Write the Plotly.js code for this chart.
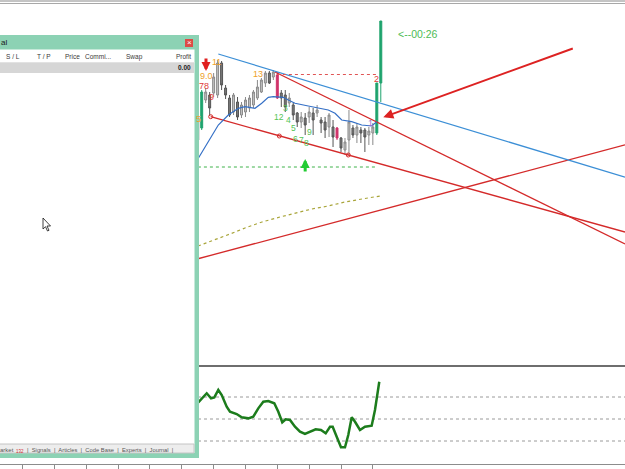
<!DOCTYPE html>
<html><head><meta charset="utf-8">
<script src="https://cdn.plot.ly/plotly-3.0.1.min.js"></script>
<style>html,body{margin:0;padding:0;background:#fff;overflow:hidden}#chart{width:625px;height:469px}</style>
</head><body><div id="chart"></div>
<script>
// ================= DATA (bar index / price units) =================
const barIndex = [-1,0,1,2,3,4,5,6,7,8,9,10,11,12,13,14,15,16,17,18,19,20,21,22,23,24,25,26,27,28,29,30,31,32,33,34,35,36,37,38,39,40,41,42,43,44,45];
const openP  = [283,272,300,305,307,305,337,312,302,288,298,285,288,292,295,302,308,317,327,323,325,307,305,297,295,287,278,282,283,287,287,280,278,273,273,272,262,250,260,272,265,270,270,265,267,267,317];
const highP  = [288,310,312,308,327,340,339,315,305,307,303,298,303,305,310,320,322,329,329,330,328,310,310,307,297,288,288,287,293,292,295,283,283,287,280,273,263,262,290,275,277,273,272,273,277,317,379];
const lowP   = [252,270,297,284,303,302,310,301,283,285,280,282,283,288,292,300,307,313,316,320,301,293,288,293,280,273,272,265,277,265,283,267,262,263,253,260,248,245,245,262,257,257,248,255,255,265,298];
const closeP = [260,308,308,292,323,337,315,305,285,305,283,295,300,302,308,313,320,327,317,328,302,302,293,302,285,278,283,275,288,280,290,277,270,285,263,262,252,258,278,265,273,267,263,269,273,317,379];
const greenSignalBars   = [0,44,45];
const crimsonSignalBars = [19,34];

// moving averages
const maBar   = [-0.85,0.83,2.51,4.17,6.68,9.2,10.88,13.39,15.08,16.73,17.99,20.5,21.76,23.44,26.78,29.3,31.8,33.5,35.18,37.69,40.2,42.71,43.97];
const maPrice = [241.7,253.3,265,275,285,291.7,293.3,291.7,296.7,302.7,303.3,302.7,300,296.7,294,291.7,290,286.7,280,278.3,275,274,278.3];
const slowMaBar   = [-0.93,3.34,7.11,10.88,15.15,19.67,23.44,27.71,31.73,36.0,40.28,44.8];
const slowMaPrice = [154,160,166,172,178,183,187,191,194,198,201,204];

// trend lines: [bar1, price1, bar2, price2] (rays to the right)
const trendChannelLow = [2.26,283.3,36.83,245];
const trendBlue       = [4.17,346,44.8,297];
const trendRedUpper   = [18.42,328,44.8,276.4];
const trendRedRising  = [-1.18,141,44.8,189.8];
const channelAnchorBar   = [2.26,19.5,36.83];
const channelAnchorPrice = [283.3,264,245];

// horizontal levels
const greenLevel = 233, greenLevelFrom = -50.7, greenLevelTo = 44.2;
const redLevel = 325.5, redLevelFrom = 18.9, redLevelTo = 44.0;

// signal arrow (tail -> head)
const arrowBars = [93.37,45.63], arrowPrices = [351.7,282.7];
const upArrowBar = 26, upArrowPrice = 241;
const downArrowBar = 1.08, downArrowPrice = 329;

// count labels
const orangeText = ['11','9.0','5','13'], orangeBar = [3.6,1.08,-0.93,14.15], orangePrice = [338,324,281,326];
const redText = ['78','9','2'], redBar = [0.58,2.34,43.8], redPrice = [314,303,321];
const greenText = ['12','3','4','5','6','7','8','9'];
const greenBar = [19.42,20.93,21.93,22.94,23.6,25.0,26.4,27.2];
const greenPrice = [283,292,280,272.5,261,260,257,268];
const purpleText = ['1'], purpleBar = [42.5], purplePrice = [277];
const timerText = '<--00:26', timerBar = 48.8, timerPrice = 366;

// oscillator
const rsiBar = [-0.85,1.26,2.34,3.17,4.17,5.03,6.28,7.11,8.79,10.05,11.71,12.96,14.22,15.48,16.73,18.24,19.25,20.25,21.11,22.19,23.44,24.7,25.95,27.21,28.64,29.97,31.16,32.24,32.91,33.92,35.0,36.0,36.83,37.69,38.52,39.77,41.03,42.71,43.54,44.62];
const rsiValue = [65.2,73.4,68.8,69.7,76.4,71.8,61.2,56.6,54.5,51.5,50.6,52.1,59.7,65.7,66.4,64.3,56.6,47.0,49.7,49.1,43.0,38.5,36.4,38.5,40.6,40.0,37.0,43.0,43.0,33.9,24.3,24.3,35.5,51.5,47.5,40.0,43.0,43.9,58.2,83.9];
const rsiLevels = [30,50,70];
const timeTicks = [-45,-37,-29,-21,-13,-5,3,11,19,27,35,43];

// terminal panel texts
const panelHeaders = ['S / L','T / P','Price','Commi...','Swap'];
const panelTabs = ['Signals','Articles','Code Base','Experts','Journal'];

// ================= BUILD =================
const XR = [-50.68, 106.36];
const W = 625, H = 469;
const X = x => x / W, Y = y => 1 - y / H;

function pick(arr, set, keep){ return arr.filter((v,k)=> keep ? set.includes(barIndex[k]) : !set.includes(barIndex[k])); }
const special = greenSignalBars.concat(crimsonSignalBars);
function candle(set, keep, inc, dec){
  return {type:'candlestick', x:pick(barIndex,set,keep), open:pick(openP,set,keep), high:pick(highP,set,keep),
    low:pick(lowP,set,keep), close:pick(closeP,set,keep), xaxis:'x', yaxis:'y', hoverinfo:'skip', showlegend:false,
    increasing:{line:{color:inc[0],width:1},fillcolor:inc[1]}, decreasing:{line:{color:dec[0],width:1},fillcolor:dec[1]}};
}
function ray(t, color, w){
  const s = (t[3]-t[1])/(t[2]-t[0]);
  return {type:'scatter', mode:'lines', x:[t[0], XR[1]], y:[t[1], t[1]+s*(XR[1]-t[0])],
    line:{color:color,width:w}, hoverinfo:'skip', showlegend:false};
}

const traces = [
  candle(special,false,['#8a8a8a','#c2c2c2'],['#555','#7a7a7a']),
  candle(greenSignalBars,true,['#1fa36d','#1fa36d'],['#1fa36d','#1fa36d']),
  candle(crimsonSignalBars,true,['#d0336a','#d0336a'],['#d0336a','#d0336a']),
  ray(trendRedRising,'#d42a2a',1.3),
  ray(trendChannelLow,'#d42a2a',1.3),
  ray(trendRedUpper,'#d42a2a',1.3),
  ray(trendBlue,'#3c8fd6',1.3),
  {type:'scatter',mode:'markers',x:channelAnchorBar,y:channelAnchorPrice,marker:{symbol:'circle-open',size:4,color:'#d42a2a',line:{width:1}},hoverinfo:'skip',showlegend:false},
  {type:'scatter',mode:'lines',x:slowMaBar,y:slowMaPrice,line:{color:'#a9a53a',width:1.2,dash:'dot'},hoverinfo:'skip',showlegend:false},
  {type:'scatter',mode:'lines',x:maBar,y:maPrice,line:{color:'#3570c6',width:1.2},hoverinfo:'skip',showlegend:false},
  {type:'scatter',mode:'lines',x:[greenLevelFrom,greenLevelTo],y:[greenLevel,greenLevel],line:{color:'#3fb24a',width:1,dash:'dot'},hoverinfo:'skip',showlegend:false},
  {type:'scatter',mode:'lines',x:[redLevelFrom,redLevelTo],y:[redLevel,redLevel],line:{color:'#e05555',width:1,dash:'dot'},hoverinfo:'skip',showlegend:false},
  {type:'scatter',mode:'lines',x:rsiBar,y:rsiValue,xaxis:'x',yaxis:'y2',line:{color:'#1c7c1c',width:2.5},hoverinfo:'skip',showlegend:false}
];

const annotations = [];
function lab(texts,bars,prices,color,size){
  texts.forEach((t,k)=>annotations.push({xref:'x',yref:'y',x:bars[k],y:prices[k],text:t,showarrow:false,
    font:{family:'Liberation Sans',size:size||9,color:color},xanchor:'center',yanchor:'middle',borderpad:0}));
}
lab(orangeText,orangeBar,orangePrice,'#eea12a');
lab(redText,redBar,redPrice,'#e03a3a');
lab(greenText,greenBar,greenPrice,'#55c455',8.5);
lab(purpleText,purpleBar,purplePrice,'#9a6fd0');
annotations.push({xref:'x',yref:'y',x:timerBar,y:timerPrice,text:timerText,showarrow:false,xanchor:'left',yanchor:'middle',
  font:{family:'Liberation Sans',size:10.5,color:'#4dbb55'}});
annotations.push({xref:'x',yref:'y',axref:'x',ayref:'y',x:arrowBars[1],y:arrowPrices[1],ax:arrowBars[0],ay:arrowPrices[0],
  text:'',font:{size:1},borderpad:0,showarrow:true,arrowhead:2,arrowsize:1,arrowwidth:2,arrowcolor:'#dd2222'});
annotations.push({xref:'x',yref:'y',x:upArrowBar,y:upArrowPrice,ax:0,ay:13,text:'',font:{size:1},borderpad:0,showarrow:true,arrowhead:2,arrowsize:0.6,arrowwidth:3,arrowcolor:'#22cc33'});
annotations.push({xref:'x',yref:'y',x:downArrowBar,y:downArrowPrice,ax:0,ay:-13,text:'',font:{size:1},borderpad:0,showarrow:true,arrowhead:2,arrowsize:0.6,arrowwidth:3,arrowcolor:'#e02020'});

// terminal panel text
const PF = 'Liberation Sans';
function ptext(t,x,y,anchor,size,color,bold){
  annotations.push({xref:'paper',yref:'paper',x:X(x),y:Y(y),text:bold?'<b>'+t+'</b>':t,showarrow:false,xanchor:anchor,yanchor:'middle',
    font:{family:PF,size:size,color:color},borderpad:0});
}
ptext('al',0,42.5,'left',8,'#1a1a1a');
const headerX = [13,44,72.5,98,134];
panelHeaders.forEach((t,k)=>ptext(t,headerX[k],57,'center',6.5,'#3a3a3a'));
ptext('Profit',192,57,'right',6.5,'#3a3a3a');
ptext('0.00',192,67.5,'right',6.5,'#222',true);
ptext('×',189,43,'center',8,'#ffffff');
ptext('arket',-1,449.5,'left',6,'#555');
ptext('132',15,451.5,'left',4.5,'#d03030');
ptext('|  ' + panelTabs.join('  |  ') + '  |',26,449.5,'left',5.8,'#555');

const mint = '#8cd2b4';
const shapes = [
  // oscillator separator and levels
  {type:'line',xref:'paper',yref:'paper',x0:0,x1:1,y0:Y(366),y1:Y(366),line:{color:'#6e6e6e',width:2},layer:'below'},
  ...rsiLevels.map(v=>({type:'line',xref:'paper',yref:'y2',x0:0,x1:1,y0:v,y1:v,line:{color:'#9a9a9a',width:1,dash:'dot'},layer:'below'})),
  // top frame
  {type:'line',xref:'paper',yref:'paper',x0:0,x1:1,y0:Y(1),y1:Y(1),line:{color:'#8a8a8a',width:1}},
  {type:'line',xref:'paper',yref:'paper',x0:0,x1:1,y0:Y(3.5),y1:Y(3.5),line:{color:'#a8a8a8',width:1}},
  // terminal panel
  {type:'rect',xref:'paper',yref:'paper',x0:X(-2),x1:X(199),y0:Y(458),y1:Y(35),fillcolor:mint,line:{width:0},layer:'above'},
  {type:'rect',xref:'paper',yref:'paper',x0:X(-2),x1:X(194.5),y0:Y(453),y1:Y(49.5),fillcolor:'#ffffff',line:{width:0},layer:'above'},
  {type:'line',xref:'paper',yref:'paper',x0:X(0),x1:X(194.5),y0:Y(62.5),y1:Y(62.5),line:{color:'#e2e2e2',width:1},layer:'above'},
  {type:'rect',xref:'paper',yref:'paper',x0:X(-2),x1:X(194),y0:Y(73),y1:Y(63),fillcolor:'#d6d6d6',line:{width:0},layer:'above'},
  {type:'rect',xref:'paper',yref:'paper',x0:X(-2),x1:X(194),y0:Y(453),y1:Y(444),fillcolor:'#ededed',line:{color:'#c4c4c4',width:1},layer:'above'},
  {type:'rect',xref:'paper',yref:'paper',x0:X(185),x1:X(193),y0:Y(47),y1:Y(39),fillcolor:'#dc4b46',line:{width:0},layer:'above'},
  // mouse cursor
  {type:'path',xref:'paper',yref:'paper',layer:'above',fillcolor:'#ffffff',line:{color:'#111',width:0.8},
   path:'M '+X(43)+' '+Y(218)+' L '+X(43)+' '+Y(229)+' L '+X(45.5)+' '+Y(226.7)+' L '+X(47.5)+' '+Y(231)+' L '+X(49)+' '+Y(230.3)+' L '+X(47)+' '+Y(226)+' L '+X(50.5)+' '+Y(226)+' Z'}
];

const layout = {
  width:625, height:469, margin:{l:0,r:0,t:0,b:0}, paper_bgcolor:'#ffffff', plot_bgcolor:'#ffffff',
  showlegend:false, dragmode:false,
  xaxis:{domain:[0,1], range:XR, anchor:'y2', rangeslider:{visible:false}, showgrid:false, zeroline:false,
    showline:true, linecolor:'#8c8c8c', linewidth:1, ticks:'outside', ticklen:5, tickcolor:'#8c8c8c',
    tickmode:'array', tickvals:timeTicks, showticklabels:false, fixedrange:true},
  yaxis:{domain:[Y(364),Y(4)], range:[36,396], showgrid:false, zeroline:false, showticklabels:false, showline:false, fixedrange:true},
  yaxis2:{domain:[Y(464),Y(366)], range:[9.09,98.2], showgrid:false, zeroline:false, showticklabels:false, showline:false, fixedrange:true},
  shapes:shapes, annotations:annotations
};
Plotly.newPlot('chart', traces, layout, {staticPlot:true, displayModeBar:false});
</script></body></html>
